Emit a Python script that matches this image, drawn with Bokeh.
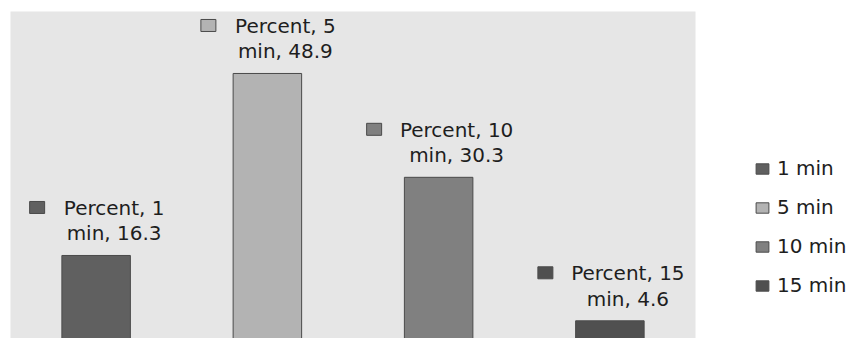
from bokeh.plotting import figure
from bokeh.models import Range1d, ColumnDataSource, Legend, LegendItem
from bokeh.core.properties import value
from bokeh.embed import file_html
from bokeh.resources import INLINE

# ---- data ----
categories = ["1 min", "5 min", "10 min", "15 min"]
percent = [16.3, 48.9, 30.3, 4.6]
series_name = "Percent"
colors = ["#606060", "#b3b3b3", "#808080", "#505050"]

# ---- layout constants ----
FRAME_W, FRAME_H = 685, 327
Y0, Y1 = 1.43, 60.0
py = FRAME_H / (Y1 - Y0)          # pixels per data unit (y)
pxu = FRAME_W / len(categories)   # pixels per category (x)
FONT = "DejaVu Sans"
FS = "20px"

xs = list(range(len(categories)))
line1 = [f"{series_name}, {c.split()[0]}" for c in categories]
line2 = [f"{c.split()[1]}, {v}" for c, v in zip(categories, percent)]
labels = [a + "\n" + b for a, b in zip(line1, line2)]

# label key squares placed left of the first label line
mk_x = [x + (18 - 11 * len(l) / 2 - 22) / pxu for x, l in zip(xs, line1)]
mk_y = [v + 48 / py for v in percent]

src = ColumnDataSource(dict(x=xs, top=percent, color=colors, cat=categories,
                            label=labels, mx=mk_x, my=mk_y))

p = figure(frame_width=FRAME_W, frame_height=FRAME_H,
           x_range=Range1d(-0.5, len(categories) - 0.5),
           y_range=Range1d(Y0, Y1),
           x_axis_location=None, y_axis_location=None,
           output_backend="svg", toolbar_location=None,
           min_border_left=10, min_border_top=11, min_border_bottom=0,
           min_border_right=0)
p.background_fill_color = "#e6e6e6"
p.border_fill_color = "white"
p.outline_line_color = None
p.grid.visible = False

bars = p.vbar(x="x", top="top", bottom=0, width=0.40, source=src,
              fill_color="color", line_color="#4a4a4a", line_width=1)

p.rect(x="mx", y="my", width=15, height=12, width_units="screen",
       height_units="screen", source=src, fill_color="color",
       line_color="#4a4a4a", line_width=1)

p.text(x="x", y="top", text="label", source=src, x_offset=18, y_offset=-10,
       text_align="center", text_baseline="bottom",
       text_font=value(FONT), text_font_size=FS, text_line_height=1.07,
       text_color="#1e1e1e")

items = [LegendItem(label=c, renderers=[bars], index=i) for i, c in enumerate(categories)]
legend = Legend(items=items, location=(59, 41), orientation="vertical",
                glyph_width=16, glyph_height=13, label_standoff=7,
                label_text_font=FONT, label_text_font_size=FS,
                label_text_color="#1e1e1e", label_height=22, spacing=15,
                padding=0, margin=0, border_line_color=None,
                background_fill_alpha=0)
p.add_layout(legend, "right")

open("out.html", "w").write(file_html(p, INLINE))
